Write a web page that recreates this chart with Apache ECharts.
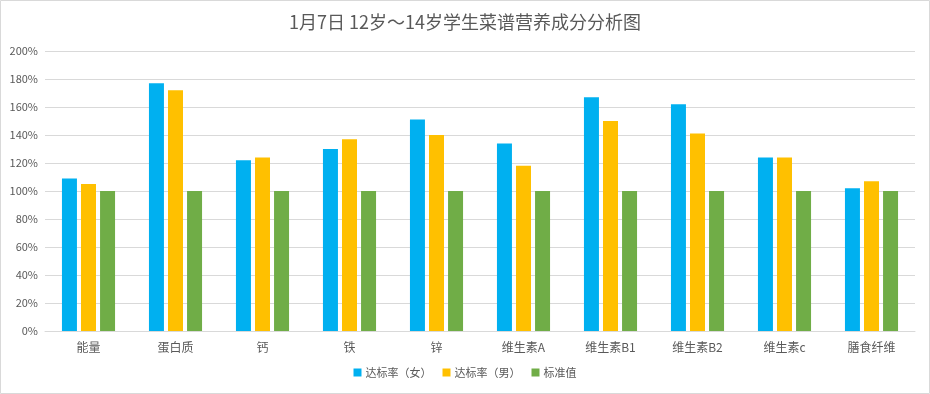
<!DOCTYPE html>
<html><head><meta charset="utf-8">
<script src="https://cdn.jsdelivr.net/npm/echarts@6/dist/echarts.min.js"></script>
<style>html,body{margin:0;padding:0;background:#fff}#c{width:930px;height:394px}</style>
</head><body><div id="c"></div>
<script>
const categories = ['能量','蛋白质','钙','铁','锌','维生素A','维生素B1','维生素B2','维生素c','膳食纤维'];
const female = [109,177,122,130,151,134,167,162,124,102];
const male = [105,172,124,137,140,118,150,141,124,107];
const standard = [100,100,100,100,100,100,100,100,100,100];
const seriesNames = ['达标率（女）','达标率（男）','标准值'];
const colors = ['#00b0f0','#ffc000','#70ad47'];
const titleText = '1月7日 12岁～14岁学生菜谱营养成分分析图';

const chart = echarts.init(document.getElementById('c'));
const font = '"Microsoft YaHei","Noto Sans CJK SC",sans-serif';
chart.setOption({
  animation:false,
  color: colors,
  title:{text:titleText,left:'center',top:8,textStyle:{fontSize:18,fontWeight:'normal',color:'#595959',fontFamily:font}},
  legend:{bottom:11,left:'center',icon:'rect',itemWidth:8,itemHeight:8,itemGap:11,
    textStyle:{fontSize:11,color:'#595959',fontFamily:font,padding:[0,0,0,-1]},data:seriesNames},
  grid:{left:45,right:15,top:51,bottom:63,containLabel:false},
  xAxis:{type:'category',data:categories,
    axisLine:{lineStyle:{color:'#d9d9d9'}},axisTick:{show:false},
    axisLabel:{fontSize:12,color:'#595959',fontFamily:font,margin:10}},
  yAxis:{type:'value',min:0,max:200,interval:20,
    axisLabel:{formatter:'{value}%',fontSize:11,color:'#595959',margin:7,fontFamily:font},
    splitLine:{lineStyle:{color:'#d9d9d9'}},axisLine:{show:false},axisTick:{show:false}},
  graphic:[{type:'rect',shape:{x:0.5,y:0.5,width:929,height:393},style:{fill:null,stroke:'#d9d9d9',lineWidth:1},silent:true}],
  series:[
    {name:seriesNames[0],type:'bar',data:female,barWidth:15,barGap:'27%'},
    {name:seriesNames[1],type:'bar',data:male,barWidth:15,barGap:'27%'},
    {name:seriesNames[2],type:'bar',data:standard,barWidth:15,barGap:'27%'}
  ]
});
</script></body></html>
